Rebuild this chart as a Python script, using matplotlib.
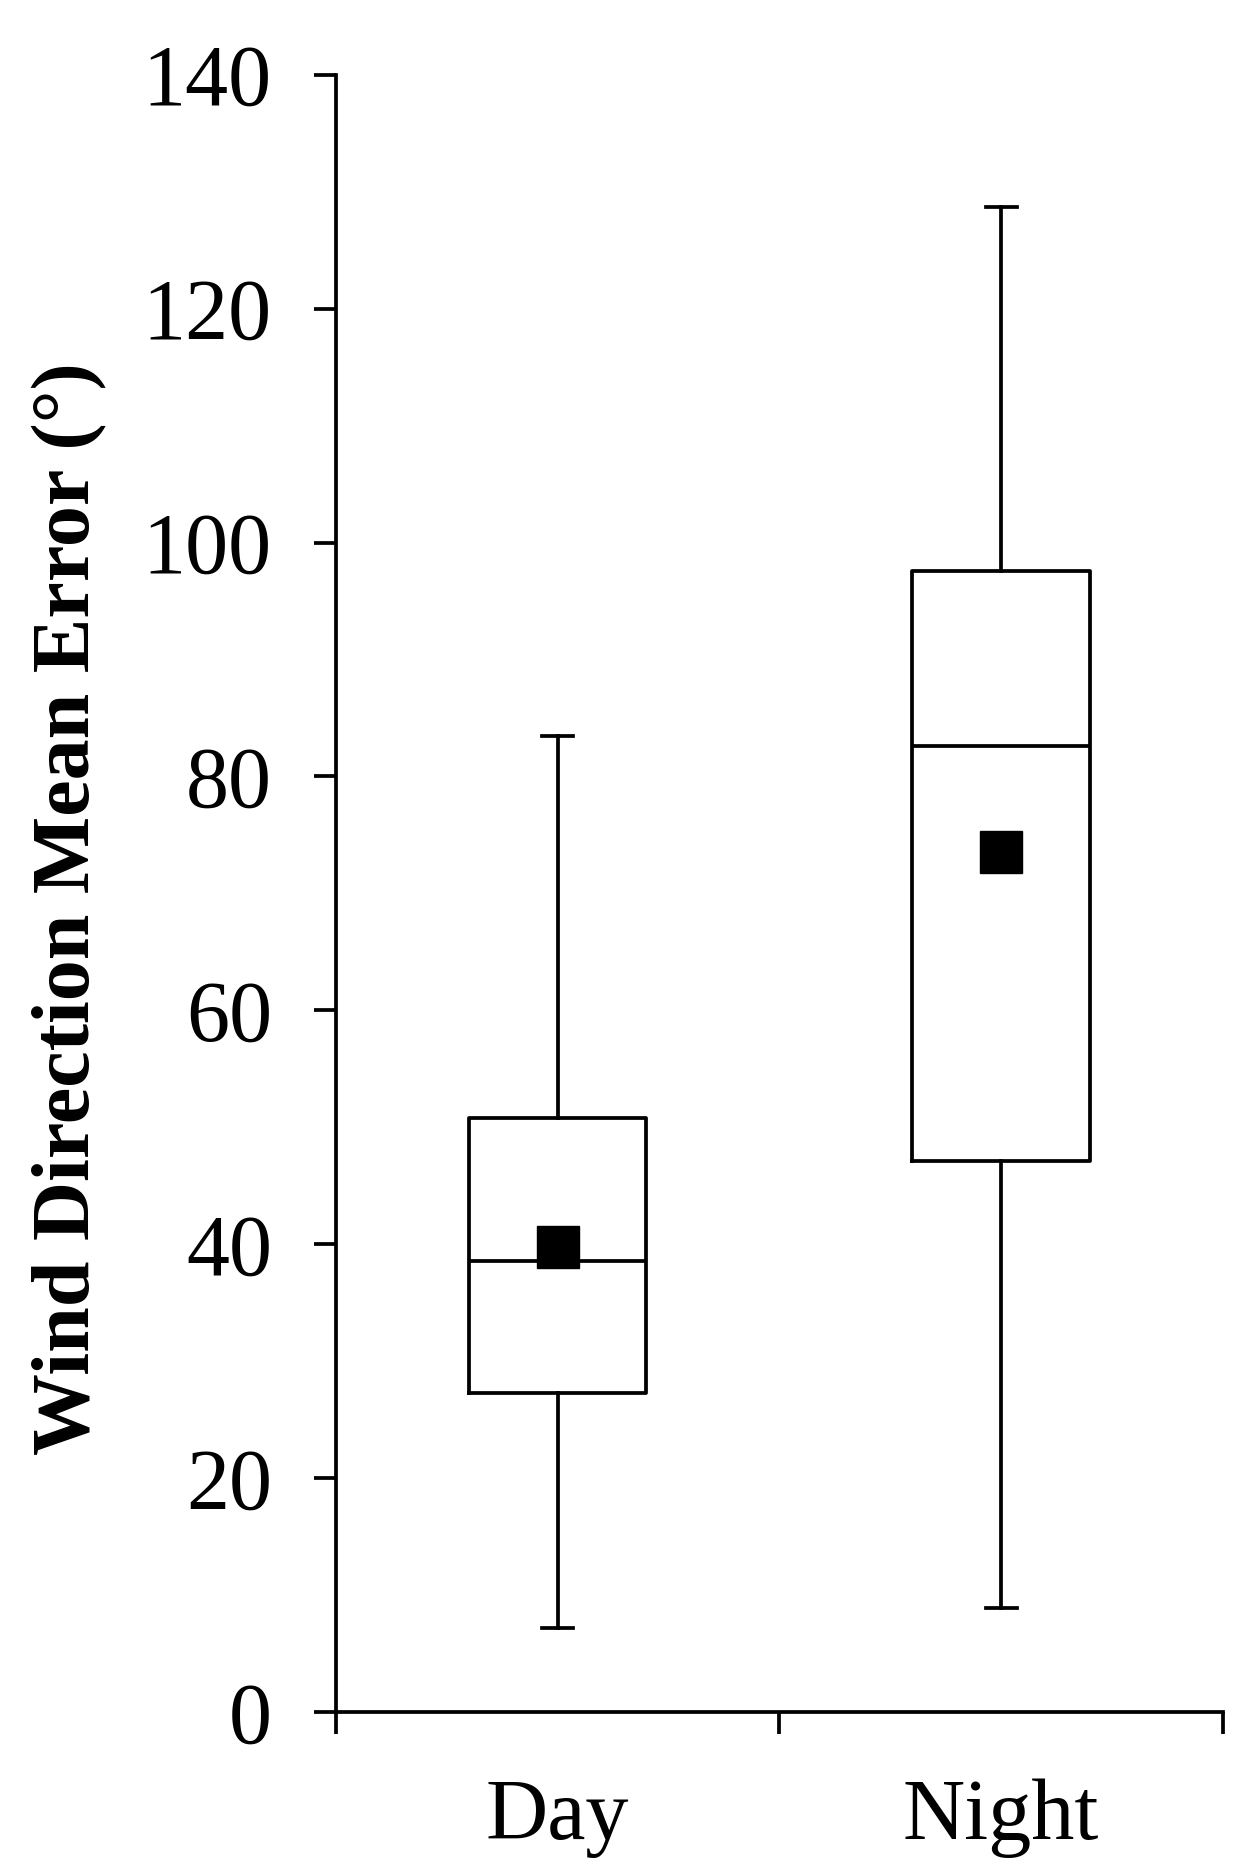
import matplotlib
matplotlib.use("Agg")
import matplotlib.pyplot as plt

plt.rcParams['font.family'] = ['Liberation Serif', 'DejaVu Serif']

# box statistics
groups = ["Day", "Night"]
whislo = [7.2, 8.9]
q1 = [27.3, 47.1]
med = [38.6, 82.6]
q3 = [50.8, 97.6]
whishi = [83.5, 128.7]
means = [39.8, 73.5]
yticks = [0, 20, 40, 60, 80, 100, 120, 140]

stats = []
for i, g in enumerate(groups):
    stats.append(dict(label=g, whislo=whislo[i], q1=q1[i], med=med[i],
                      q3=q3[i], whishi=whishi[i], mean=means[i]))

fig = plt.figure(figsize=(12.53, 18.72), dpi=100)
ax = fig.add_axes([0.268, 0.0855, 0.708, 0.8745])

lw = 2.7
ax.bxp(stats, positions=[0.5, 1.5], widths=0.4, capwidths=0.07,
       showmeans=True, showfliers=False,
       boxprops=dict(color="black", linewidth=lw),
       medianprops=dict(color="black", linewidth=lw),
       whiskerprops=dict(color="black", linewidth=lw),
       capprops=dict(color="black", linewidth=lw),
       meanprops=dict(marker="s", markerfacecolor="black",
                      markeredgecolor="black", markersize=30))

ax.set_xlim(0, 2)
ax.set_ylim(0, 140)
ax.set_yticks(yticks)
ax.set_xticks([0, 1, 2])
ax.set_xticklabels([])
ax.set_xticks([0.5, 1.5], minor=True)
ax.set_xticklabels(groups, minor=True)

ax.spines["top"].set_visible(False)
ax.spines["right"].set_visible(False)
for s in ["left", "bottom"]:
    ax.spines[s].set_linewidth(lw)

ax.tick_params(axis="y", which="major", labelsize=62, length=16, width=lw, pad=30)
ax.tick_params(axis="x", which="major", length=16, width=lw)
ax.tick_params(axis="x", which="minor", labelsize=62, length=0, pad=48)

ax.set_ylabel("Wind Direction Mean Error (°)", fontsize=59, fontweight="bold")
ax.yaxis.set_label_coords(-0.258, 0.491)

fig.savefig("out.png", dpi=100)
